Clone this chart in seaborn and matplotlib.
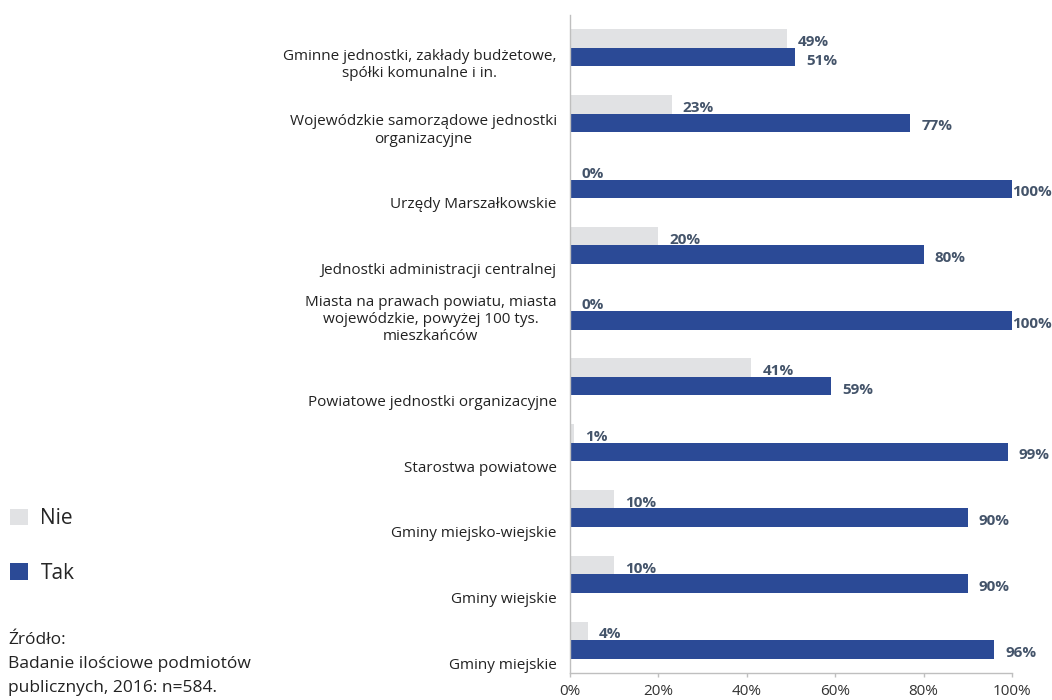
import matplotlib
matplotlib.use("Agg")
import matplotlib.pyplot as plt
import seaborn as sns
import pandas as pd
from matplotlib.patches import Patch

categories = [
    "Gminne jednostki, zakłady budżetowe,\nspółki komunalne i in.",
    "Wojewódzkie samorządowe jednostki\norganizacyjne",
    "Urzędy Marszałkowskie",
    "Jednostki administracji centralnej",
    "Miasta na prawach powiatu, miasta\nwojewódzkie, powyżej 100 tys.\nmieszkańców",
    "Powiatowe jednostki organizacyjne",
    "Starostwa powiatowe",
    "Gminy miejsko-wiejskie",
    "Gminy wiejskie",
    "Gminy miejskie",
]
nie = [49, 23, 0, 20, 0, 41, 1, 10, 10, 4]
tak = [51, 77, 100, 80, 100, 59, 99, 90, 90, 96]
series = ["Nie", "Tak"]
colors = {"Nie": "#E1E2E4", "Tak": "#2B4A96"}
xticks = [0, 20, 40, 60, 80, 100]
source_text = "Źródło:\nBadanie ilościowe podmiotów\npublicznych, 2016: n=584."

sns.set_theme(style="white")
plt.rcParams["font.family"] = ["Open Sans", "DejaVu Sans"]

df = pd.DataFrame({
    "cat": categories * 2,
    "series": ["Nie"] * len(categories) + ["Tak"] * len(categories),
    "value": nie + tak,
})

fig = plt.figure(figsize=(10.52, 7.0), dpi=100)
ax = fig.add_axes([570 / 1052, 1 - 673 / 700, (1012 - 570) / 1052, (673 - 15) / 700])

sns.barplot(data=df, y="cat", x="value", hue="series", hue_order=series,
            order=categories, palette=colors, orient="h", width=0.56,
            ax=ax, legend=False, saturation=1, edgecolor="none")

label_color = "#44546A"
for cont, vals in zip(ax.containers, [nie, tak]):
    for bar, v in zip(cont, vals):
        y = bar.get_y() + bar.get_height() / 2
        off = 0 if v >= 100 else 8
        ax.annotate(f"{v}%", (bar.get_width(), y), xytext=(off, -2.5),
                    textcoords="offset points", va="center", ha="left",
                    fontsize=11, fontweight="bold", color=label_color,
                    annotation_clip=False)

ax.set_xlim(0, 100)
ax.set_ylim(len(categories) - 0.5, -0.5)
ax.set_xticks(xticks)
ax.set_xticklabels([f"{t}%" for t in xticks], fontsize=11, color="#333333")

bounds = [i - 0.5 for i in range(len(categories) + 1)]
ax.set_yticks(bounds)
ax.set_yticklabels([""] + categories, fontsize=11, color="#222222",
                   va="bottom", multialignment="center")
ax.tick_params(axis="y", length=3.6, width=1, color="#BFBFBF", pad=6)
ax.tick_params(axis="x", length=3, width=1, color="#BFBFBF", pad=5, bottom=True)

ax.set_xlabel("")
ax.set_ylabel("")
for s in ["top", "right"]:
    ax.spines[s].set_visible(False)
for s in ["left", "bottom"]:
    ax.spines[s].set_color("#BFBFBF")
    ax.spines[s].set_linewidth(1)
ax.grid(False)

handles = [Patch(facecolor=colors[s], edgecolor="none", label=s) for s in series]
fig.legend(handles=handles, loc="upper left", bbox_to_anchor=(4 / 1052, 1 - 502 / 700),
           frameon=False, fontsize=15, handlelength=0.85, handleheight=0.85,
           handletextpad=0.6, labelspacing=1.6, borderaxespad=0, borderpad=0.3)

fig.text(8 / 1052, 1 - 632 / 700, source_text, fontsize=12.5, color="#222222",
         va="top", ha="left", linespacing=1.68)

fig.savefig("out.png", dpi=100)
